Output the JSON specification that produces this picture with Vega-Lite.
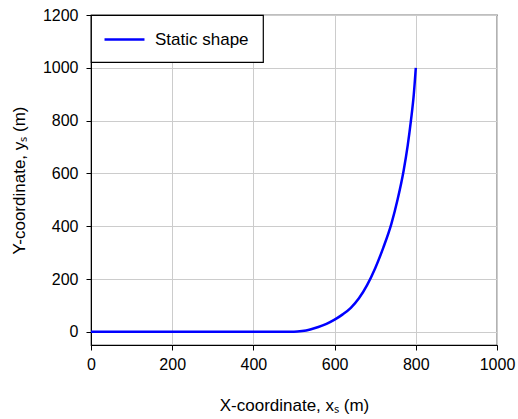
{
  "$schema": "https://vega.github.io/schema/vega-lite/v6.json",
  "autosize": "none",
  "padding": {"left": 91, "top": 15, "right": 21, "bottom": 74},
  "width": 406,
  "height": 330,
  "background": "white",
  "config": {
    "font": "Liberation Sans",
    "view": {"stroke": "black", "strokeWidth": 1.2},
    "legend": {"strokeWidth": 1.2},
    "axis": {
      "labelFont": "Liberation Sans",
      "titleFont": "Liberation Sans",
      "labelFontSize": 16,
      "titleFontSize": 17,
      "titleFontWeight": "normal",
      "labelColor": "black",
      "titleColor": "black",
      "domainColor": "black",
      "tickColor": "black",
      "gridColor": "#cccccc",
      "gridWidth": 1,
      "tickSize": 5,
      "labelFlush": false,
      "labelOverlap": false,
      "format": "d"
    }
  },
  "data": {
    "values": [
      {"x": 0, "y": 0, "series": "Static shape"},
      {"x": 100, "y": 0, "series": "Static shape"},
      {"x": 200, "y": 0, "series": "Static shape"},
      {"x": 300, "y": 0, "series": "Static shape"},
      {"x": 400, "y": 0, "series": "Static shape"},
      {"x": 480, "y": 0, "series": "Static shape"},
      {"x": 500, "y": 0, "series": "Static shape"},
      {"x": 520, "y": 3, "series": "Static shape"},
      {"x": 540, "y": 9, "series": "Static shape"},
      {"x": 560, "y": 18, "series": "Static shape"},
      {"x": 580, "y": 30, "series": "Static shape"},
      {"x": 600, "y": 46, "series": "Static shape"},
      {"x": 620, "y": 66, "series": "Static shape"},
      {"x": 640, "y": 91, "series": "Static shape"},
      {"x": 660, "y": 127, "series": "Static shape"},
      {"x": 680, "y": 177, "series": "Static shape"},
      {"x": 700, "y": 241, "series": "Static shape"},
      {"x": 720, "y": 319, "series": "Static shape"},
      {"x": 740, "y": 410, "series": "Static shape"},
      {"x": 755, "y": 500, "series": "Static shape"},
      {"x": 770, "y": 610, "series": "Static shape"},
      {"x": 780, "y": 705, "series": "Static shape"},
      {"x": 788, "y": 800, "series": "Static shape"},
      {"x": 795, "y": 898, "series": "Static shape"},
      {"x": 800, "y": 1000, "series": "Static shape"}
    ]
  },
  "mark": {"type": "line", "strokeWidth": 2.5, "interpolate": "monotone", "clip": true},
  "encoding": {
    "x": {
      "field": "x",
      "type": "quantitative",
      "scale": {"domain": [0, 1000], "nice": false, "zero": false},
      "axis": {
        "values": [0, 200, 400, 600, 800, 1000],
        "title": "X-coordinate, xₛ (m)",
        "titlePadding": 25,
        "labelPadding": 6
      }
    },
    "y": {
      "field": "y",
      "type": "quantitative",
      "scale": {"domain": [-50, 1200], "nice": false, "zero": false},
      "axis": {
        "values": [0, 200, 400, 600, 800, 1000, 1200],
        "title": "Y-coordinate, yₛ (m)",
        "titlePadding": 14,
        "labelPadding": 8
      }
    },
    "color": {
      "field": "series",
      "type": "nominal",
      "scale": {"range": ["#0000ff"]},
      "legend": {
        "title": null,
        "orient": "top-left",
        "offset": 0,
        "fillColor": "white",
        "strokeColor": "black",
        "cornerRadius": 0,
        "padding": 14,
        "symbolType": "M-1.22,0H3.22",
        "symbolSize": 324,
        "symbolStrokeWidth": 2.5,
        "labelFontSize": 17,
        "labelFont": "Liberation Sans",
        "labelColor": "black",
        "labelOffset": 29,
        "labelLimit": 200
      }
    }
  }
}
